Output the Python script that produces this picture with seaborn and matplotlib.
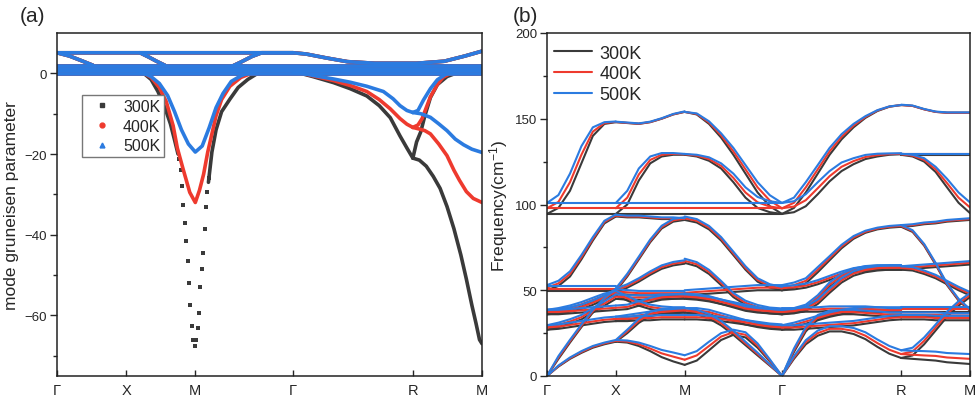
import numpy as np
import pandas as pd
import matplotlib.pyplot as plt
from matplotlib.lines import Line2D
import seaborn as sns

temps = ["300K", "400K", "500K"]
colors = {"300K": "#3a3a3a", "400K": "#ee3a2e", "500K": "#2b7be0"}
path_ticks = [0.0, 0.5, 1.0, 1.707, 2.573, 3.073]
path_labels = ["Γ", "X", "M", "Γ", "R", "M"]

# ---------------- (a) mode Gruneisen parameter ----------------
# near-zero branches, the same for every temperature
flat_q = [0.0, 3.073]
flat_levels = [-0.1, 0.5, 1.1, 1.7]
top1_q = [0.0, 1.707, 1.80, 1.95, 2.10, 2.30, 2.60, 2.80, 2.95, 3.073]
top1_g = [5.1, 5.1, 4.8, 3.8, 2.9, 2.5, 2.5, 3.0, 4.3, 5.5]
top2_q = [0.0, 0.09, 0.18, 0.26]
top2_g = [5.1, 4.3, 3.1, 2.0]
top3_q = [0.60, 0.66, 0.72, 0.78]
top3_g = [5.1, 4.1, 3.0, 2.0]
top4_q = [1.25, 1.33, 1.41, 1.48, 1.707]
top4_g = [1.5, 2.8, 4.2, 5.1, 5.1]

# dip at M
m300_left_q = [0.55, 0.62, 0.68, 0.73, 0.78, 0.82, 0.85, 0.875]
m300_left_g = [1.0, 0.2, -1.5, -4.5, -8.5, -12.5, -16.5, -20.0]
m300_right_q = [1.095, 1.12, 1.15, 1.19, 1.25, 1.31, 1.38, 1.46, 1.52]
m300_right_g = [-27.0, -19.5, -14.0, -9.5, -6.4, -3.5, -1.5, 0.2, 1.0]
m300_dots_q = [0.884, 0.894, 0.904, 0.914, 0.924, 0.935, 0.945, 0.955, 0.965, 0.975, 0.985,
               0.995, 1.006, 1.016, 1.027, 1.037, 1.047, 1.057, 1.067, 1.078, 1.088, 1.098]
m300_dots_g = [-21.2, -24.0, -28.0, -32.5, -37.0, -41.5, -46.5, -52.0, -57.5, -62.5, -66.0,
               -67.5, -66.0, -63.0, -59.5, -53.0, -48.5, -44.5, -38.5, -33.0, -29.5, -26.0]
m400_q = [0.55, 0.62, 0.68, 0.74, 0.79, 0.84, 0.87, 0.91, 0.96, 1.0, 1.03, 1.06, 1.09,
          1.12, 1.15, 1.19, 1.25, 1.33, 1.42, 1.50]
m400_g = [1.0, 0.2, -1.0, -3.5, -7.0, -13.0, -18.5, -23.5, -29.5, -32.0, -29.0, -25.0, -19.5,
          -15.0, -10.5, -6.5, -3.2, -1.0, 0.2, 1.0]
m500_q = [0.55, 0.62, 0.68, 0.74, 0.80, 0.85, 0.90, 0.95, 1.0, 1.05, 1.10, 1.15, 1.20,
          1.26, 1.33, 1.40, 1.48]
m500_g = [1.0, 0.2, -0.8, -2.5, -5.5, -9.5, -14.0, -17.5, -19.5, -18.0, -13.5, -8.5, -5.0,
          -2.0, -0.6, 0.3, 1.0]

# dip at R: approach from Gamma, branch going back up, branch going down to M
r300_in_q = [1.707, 1.85, 2.0, 2.12, 2.24, 2.33, 2.41, 2.48, 2.53, 2.573]
r300_in_g = [0.5, -0.8, -2.3, -3.8, -5.6, -8.0, -11.0, -15.5, -18.5, -21.0]
r300_up_q = [2.573, 2.60, 2.63, 2.66, 2.70, 2.75, 2.82, 2.92, 3.0]
r300_up_g = [-21.0, -17.0, -14.5, -10.5, -6.0, -2.8, -0.8, 0.5, 1.0]
r300_dn_q = [2.573, 2.62, 2.67, 2.72, 2.77, 2.82, 2.87, 2.92, 2.96, 3.0, 3.03, 3.055, 3.073]
r300_dn_g = [-21.0, -21.5, -23.0, -25.5, -28.5, -33.0, -38.5, -45.0, -51.0, -57.5, -62.0,
             -66.0, -67.0]
r400_in_q = [1.707, 1.85, 2.0, 2.12, 2.24, 2.33, 2.41, 2.48, 2.53, 2.573]
r400_in_g = [0.5, -0.6, -1.8, -3.0, -4.5, -6.5, -8.8, -11.2, -12.6, -13.4]
r400_up_q = [2.573, 2.61, 2.64, 2.67, 2.70, 2.75, 2.79, 2.86, 2.95]
r400_up_g = [-13.4, -12.8, -11.2, -8.5, -5.8, -2.8, -1.0, 0.3, 1.0]
r400_dn_q = [2.573, 2.62, 2.66, 2.70, 2.76, 2.82, 2.87, 2.91, 2.96, 3.01, 3.073]
r400_dn_g = [-13.4, -13.8, -14.2, -15.0, -17.5, -20.4, -24.0, -26.5, -29.3, -31.0, -32.0]
r500_in_q = [1.707, 1.85, 2.0, 2.12, 2.24, 2.36, 2.43, 2.48, 2.53, 2.573]
r500_in_g = [0.5, -0.5, -1.4, -2.2, -3.2, -4.5, -6.3, -8.0, -9.2, -9.7]
r500_up_q = [2.573, 2.61, 2.65, 2.70, 2.75, 2.82, 2.90]
r500_up_g = [-9.7, -9.2, -6.6, -3.8, -1.6, 0.0, 1.0]
r500_dn_q = [2.573, 2.63, 2.70, 2.76, 2.82, 2.88, 2.94, 3.0, 3.073]
r500_dn_g = [-9.7, -10.0, -10.9, -12.5, -14.2, -16.3, -17.7, -18.8, -19.6]

# ---------------- (b) phonon dispersion (300K values + shifts of 400K / 500K) ----------------
gx_q = [0.0, 0.083, 0.167, 0.25, 0.333, 0.417, 0.5]
xm_q = [0.5, 0.583, 0.667, 0.75, 0.833, 0.917, 1.0]
mg_q = [1.0, 1.088, 1.177, 1.265, 1.354, 1.442, 1.530, 1.619, 1.707]
gr_q = [1.707, 1.794, 1.880, 1.967, 2.053, 2.140, 2.227, 2.313, 2.400, 2.487, 2.573]
rm_q = [2.573, 2.656, 2.740, 2.823, 2.906, 2.990, 3.073]

gx_300 = [
    [0, 5.5, 10, 13.5, 16.5, 18.5, 20],
    [0, 10, 19.5, 28.5, 37, 44, 49],
    [27, 28.5, 30.5, 33, 37, 41, 45],
    [27, 27.5, 28.5, 29.5, 30.5, 31.5, 32],
    [36, 36.5, 37.5, 39, 41.5, 44.5, 48],
    [36, 36, 36.5, 37, 37.5, 38, 38.5],
    [36, 37, 38.5, 40.5, 43, 45.5, 47],
    [49.5, 49.5, 49.5, 49.5, 49.5, 49.5, 49.5],
    [50, 52.5, 58, 68, 79, 89, 93],
    [94.5, 94.5, 94.5, 94.5, 94.5, 94.5, 94.5],
    [94.5, 98, 108, 124, 140, 147, 148],
]
gx_d400 = [[0, .3, .4, .5, .5, .5, .5], [0, .8, .8, .8, .8, .8, .8], 1.3, 1.3, 1.3, 1.3, 1.3,
           1.5, [1.5, 1.5, 1.5, 1.2, 1, .8, .6], 3.3, [3.3, 3.5, 5, 5, 2.5, .5, .2]]
gx_d500 = [[0, .6, .8, 1, 1, 1, 1], [0, 1.6, 1.6, 1.6, 1.6, 1.6, 1.6], 2.6, 2.6, 2.6, 2.6, 2.6,
           3.0, [3, 3, 3, 2.5, 2, 1.5, 1.2], 6.4, [6.4, 7.5, 10, 10, 5, 1, .4]]

xm_300 = [
    [20, 19.5, 17.5, 14.5, 11, 8.5, 6.5],
    [20, 25, 31, 35, 36.5, 37, 37],
    [32, 32, 32.5, 32.5, 33, 33, 33],
    [32, 33, 34, 35, 36, 36.5, 37],
    [38.5, 39, 41, 43, 44.5, 45, 45.5],
    [45, 44.5, 44.5, 44.5, 45, 45, 45],
    [47, 44, 41, 39, 38, 37.5, 37.5],
    [48, 47.5, 47, 47, 47, 47, 47],
    [49, 51.5, 55, 59, 62.5, 64.5, 65.5],
    [49.5, 58, 68, 78, 86, 90, 91],
    [93, 92.5, 92.5, 92, 91.5, 91.5, 91],
    [94.5, 94.5, 94.5, 94.5, 94.5, 94.5, 94.5],
    [94.5, 100, 114, 124, 128, 129, 129],
    [148, 147.5, 147, 148, 150, 152.5, 154],
]
xm_d400 = [[.5, .6, 1, 1.5, 2.2, 2.8, 3], [.5, 1, 1.2, 1.3, 1.3, 1.3, 1.3], 1.3, 1.3, 1.3, 1.3,
           1.3, 1.3, 1.0, 0.8, 0.5, 3.3, [3.3, 4, 3.5, 2, 1, .5, .3], 0.1]
xm_d500 = [[1, 1.2, 2, 3, 4.2, 5.2, 5.6], [1, 2, 2.4, 2.6, 2.6, 2.6, 2.6], 2.6, 2.6, 2.6, 2.6,
           2.6, 2.6, 2.0, 1.6, 1.0, 6.4, [6.4, 8, 7, 4, 2, 1, .5], 0.3]

mg_300 = [
    [6.5, 9, 15, 21, 24, 22.5, 16.5, 8.5, 0],
    [37, 36, 33.5, 29.5, 24, 18, 12, 6, 0],
    [37, 37, 36, 34, 32, 30, 28.5, 27.5, 27],
    [33, 33, 32.5, 32, 31, 30, 29, 28, 27.5],
    [45, 44.5, 43.5, 42, 40.5, 39, 37.5, 36.5, 36],
    [45.5, 45, 44, 42, 40, 38, 37, 36.5, 36],
    [47, 47.5, 48, 48.5, 49, 49.5, 50, 50, 50],
    [66, 64, 59.5, 53, 46, 41.5, 39, 37.5, 37],
    [91, 89.5, 85.5, 79, 70.5, 62, 55, 51.5, 50],
    [94.5, 94.5, 94.5, 94.5, 94.5, 94.5, 94.5, 94.5, 94.5],
    [129, 128, 125.5, 121, 113, 104, 98, 95.5, 94.5],
    [154, 152.5, 147, 139, 129, 118, 107, 99, 94.5],
]
mg_d400 = [[3, 3, 2.5, 2, 1.5, 1.5, 1.2, .6, 0], [1.3, 1.3, 1.3, 1.3, 1.2, 1, .8, .4, 0],
           1.3, 1.3, 1.3, 1.3, 1.5, 1.2, 1.0, 3.3,
           [.3, .5, 1, 1.5, 2.5, 3, 3.3, 3.3, 3.3], [0, .3, .8, 1.3, 2, 2.5, 3, 3.3, 3.3]]
mg_d500 = [[5.6, 5.5, 5, 4, 3, 3, 2.5, 1.2, 0], [2.6, 2.6, 2.6, 2.6, 2.4, 2, 1.6, .8, 0],
           2.6, 2.6, 2.6, 2.6, 3.0, 2.4, 2.0, 6.4,
           [.5, 1, 2, 3, 5, 6, 6.4, 6.4, 6.4], [0, .6, 1.5, 2.5, 4, 5, 6, 6.4, 6.4]]

gr_300 = [
    [0, 10, 18.5, 23.5, 26, 26, 24.5, 21.5, 17, 13, 10.5],
    [0, 14, 26, 33, 35.5, 36, 36, 35.5, 35, 34.5, 34.5],
    [27, 27, 27.5, 28, 28.5, 29, 29.5, 30.5, 31.5, 32.5, 33],
    [27, 28.5, 30.5, 32.5, 34.5, 36, 37, 37.5, 37.5, 37, 37],
    [36, 37, 39, 44.5, 52, 57, 60, 61.5, 62, 62, 62],
    [36, 36.5, 38, 42, 48.5, 54.5, 58.5, 60.5, 61.5, 62, 62],
    [37, 37, 37.5, 37.5, 38, 38, 38, 38, 37.5, 37.5, 37.5],
    [50, 51.5, 54, 60.5, 67.5, 74.5, 80, 83.5, 85.5, 86.5, 87],
    [50, 50.5, 51.5, 53.5, 56, 58.5, 60.5, 61.5, 62, 62, 62],
    [94.5, 95.5, 99, 106, 113.5, 119.5, 123.5, 126.5, 128, 129, 129.3],
    [94.5, 98, 107, 118, 129, 138, 145, 150.5, 154.5, 157, 158],
]
gr_d400 = [[0, .8, 1.2, 1.5, 1.5, 1.5, 1.8, 2, 2.2, 2.3, 2.3], [0, 1, 1.3, 1.3, 1.3, 1.3, 1.3, 1.3, 1.3, 1.3, 1.3],
           1.3, 1.3, 1.3, 1.3, 1.3, [1.5, 1.5, 1.5, 1.5, 1.2, 1, .8, .6, .5, .5, .5], 1.2,
           [3.3, 3.3, 3.5, 3.5, 3, 2.5, 1.8, 1.2, .8, .4, .3], [3.3, 3, 3, 2.5, 2, 1.5, 1, .5, .3, .1, 0]]
gr_d500 = [[0, 1.6, 2.4, 3, 3, 3, 3.5, 4, 4.3, 4.5, 4.5], [0, 2, 2.6, 2.6, 2.6, 2.6, 2.6, 2.6, 2.6, 2.6, 2.6],
           2.6, 2.6, 2.6, 2.6, 2.6, [3, 3, 3, 3, 2.4, 2, 1.6, 1.2, 1, 1, 1], 2.4,
           [6.4, 6.4, 7, 7, 6, 5, 3.5, 2.4, 1.6, .8, .6], [6.4, 6, 6, 5, 4, 3, 2, 1, .5, .2, 0]]

rm_300 = [
    [10.5, 10, 9.5, 9, 8, 7.5, 7],
    [10.5, 12, 18.5, 26.5, 34.5, 41, 46],
    [34.5, 34.5, 34.5, 34.5, 34, 34, 34],
    [33, 33, 33, 32.5, 32.5, 32.5, 32.5],
    [37.5, 37.5, 37.5, 37.5, 37.5, 37.5, 37.5],
    [62, 62.5, 63, 63.5, 64, 64.5, 65],
    [62, 61.5, 59.5, 57, 53.5, 50, 47],
    [87, 87.5, 88.5, 89, 90, 90.5, 91],
    [87, 84, 76, 65, 53, 44, 38],
    [129, 129, 129, 129, 129, 129, 129],
    [129, 128, 125, 119, 110, 101, 95],
    [158, 157.5, 155.5, 154, 153.5, 153.5, 153.5],
]
rm_d400 = [[2.3, 2.4, 2.5, 2.7, 2.8, 2.9, 3], [2.3, 2.3, 2, 1.8, 1.5, 1.3, 1.2], 1.3, 1.3, 1.3,
           1.0, 1.0, 0.5, 0.5, 0.3, [.3, .5, 1, 1.5, 2.5, 3, 3.3], 0.0]
rm_d500 = [[4.5, 4.7, 5, 5.2, 5.4, 5.6, 5.8], [4.5, 4.5, 4, 3.5, 3, 2.6, 2.4], 2.6, 2.6, 2.6,
           2.0, 2.0, 1.0, 1.0, 0.6, [.6, 1, 2, 3, 5, 6, 6.2], 0.2]


# ---------------- long-form tables ----------------
rows_a = []


def add_curve(rows, q, y, temp, name):
    for a, b in zip(q, y):
        rows.append((a, b, temp, name))


for t in temps:
    for k, lvl in enumerate(flat_levels):
        add_curve(rows_a, flat_q, [lvl, lvl], t, "flat%d" % k)
    add_curve(rows_a, top1_q, top1_g, t, "top1")
    add_curve(rows_a, top2_q, top2_g, t, "top2")
    add_curve(rows_a, top3_q, top3_g, t, "top3")
    add_curve(rows_a, top4_q, top4_g, t, "top4")

add_curve(rows_a, m300_left_q, m300_left_g, "300K", "mL")
add_curve(rows_a, m300_right_q, m300_right_g, "300K", "mR")
add_curve(rows_a, m400_q, m400_g, "400K", "m")
add_curve(rows_a, m500_q, m500_g, "500K", "m")
for t, rin, rup, rdn in [("300K", (r300_in_q, r300_in_g), (r300_up_q, r300_up_g), (r300_dn_q, r300_dn_g)),
                         ("400K", (r400_in_q, r400_in_g), (r400_up_q, r400_up_g), (r400_dn_q, r400_dn_g)),
                         ("500K", (r500_in_q, r500_in_g), (r500_up_q, r500_up_g), (r500_dn_q, r500_dn_g))]:
    add_curve(rows_a, rin[0], rin[1], t, "rin")
    add_curve(rows_a, rup[0], rup[1], t, "rup")
    add_curve(rows_a, rdn[0], rdn[1], t, "rdn")
frame_a = pd.DataFrame(rows_a, columns=["q", "gamma", "T", "curve"])

rows_b = []
for seg, q, base, d4, d5 in [("gx", gx_q, gx_300, gx_d400, gx_d500),
                             ("xm", xm_q, xm_300, xm_d400, xm_d500),
                             ("mg", mg_q, mg_300, mg_d400, mg_d500),
                             ("gr", gr_q, gr_300, gr_d400, gr_d500),
                             ("rm", rm_q, rm_300, rm_d400, rm_d500)]:
    for i, curve in enumerate(base):
        for t, d in (("300K", 0.0), ("400K", d4[i]), ("500K", d5[i])):
            vals = np.asarray(curve, float) + np.asarray(d, float)
            add_curve(rows_b, q, vals, t, "%s%d" % (seg, i))
frame_b = pd.DataFrame(rows_b, columns=["q", "freq", "T", "curve"])

# ---------------- drawing ----------------
sns.set_style("ticks")
plt.rcParams["font.family"] = ["Liberation Sans", "DejaVu Sans"]
plt.rcParams["mathtext.default"] = "regular"

fig = plt.figure(figsize=(9.8, 4.02), dpi=100)
ax1 = fig.add_axes([57 / 980, 25 / 402, 425 / 980, 343 / 402])
ax2 = fig.add_axes([547 / 980, 25 / 402, 423 / 980, 343 / 402])

sns.scatterplot(x=m300_dots_q, y=m300_dots_g, marker="s", s=9, color=colors["300K"],
                linewidth=0, ax=ax1)
sns.lineplot(data=frame_a, x="q", y="gamma", hue="T", units="curve", estimator=None, sort=False,
             palette=colors, hue_order=temps, lw=2.6, legend=False, ax=ax1)
sns.lineplot(data=frame_b, x="q", y="freq", hue="T", units="curve", estimator=None, sort=False,
             palette=colors, hue_order=temps, lw=1.5, legend=False, ax=ax2)

for a in (ax1, ax2):
    a.set_xlim(0, 3.073)
    a.set_xticks(path_ticks)
    a.set_xticklabels(path_labels, fontsize=10.5)
    a.set_xlabel("")
    a.tick_params(axis="x", direction="in", length=4, width=1, pad=5)
    a.tick_params(axis="y", which="major", direction="out", length=5, width=1, labelsize=9.5, pad=2)
    a.tick_params(axis="y", which="minor", direction="out", length=3, width=1)
    for s in a.spines.values():
        s.set_linewidth(1.1)
        s.set_color("#222222")

ax1.set_ylim(-75, 10)
ax1.set_yticks([-60, -40, -20, 0])
ax1.set_yticks([-70, -50, -30, -10], minor=True)
ax1.set_ylabel("mode gruneisen parameter", fontsize=12.5)
ax1.yaxis.set_label_coords(-0.089, 0.5)

ax2.set_ylim(0, 200)
ax2.set_yticks([0, 50, 100, 150, 200])
ax2.set_yticks([25, 75, 125, 175], minor=True)
ax2.set_ylabel("Frequency(cm$^{-1}$)", fontsize=12.5)
ax2.yaxis.set_label_coords(-0.087, 0.5)

marks = {"300K": "s", "400K": "o", "500K": "^"}
h1 = [Line2D([], [], marker=marks[t], color=colors[t], linestyle="None", markersize=3.5) for t in temps]
ax1.legend(h1, temps, loc="upper left", bbox_to_anchor=(0.059, 0.819), frameon=True, fancybox=False,
           edgecolor="#777777", framealpha=1, fontsize=11.5, handlelength=2.0, handletextpad=0.35,
           borderpad=0.22, labelspacing=0.31, borderaxespad=0)
h2 = [Line2D([], [], color=colors[t], lw=1.5) for t in temps]
ax2.legend(h2, temps, loc="upper left", bbox_to_anchor=(-0.021, 1.013), frameon=False, fontsize=13,
           handlelength=2.1, handletextpad=0.4, labelspacing=0.2)

fig.text(20 / 980, 1 - 16.5 / 402, "(a)", fontsize=15, va="center")
fig.text(513 / 980, 1 - 16.5 / 402, "(b)", fontsize=15, va="center")

fig.savefig("out.png", dpi=100)
